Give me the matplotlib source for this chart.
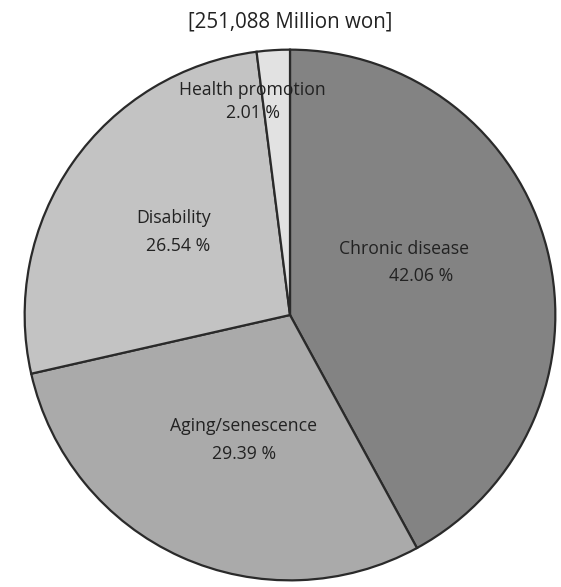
import matplotlib
matplotlib.use("Agg")
import matplotlib.pyplot as plt

# data
categories = ["Chronic disease", "Aging/senescence", "Disability", "Health promotion"]
shares = [42.06, 29.39, 26.54, 2.01]
pct_labels = ["42.06 %", "29.39 %", "26.54 %", "2.01 %"]
title_text = "[251,088 Million won]"

colors = ["#838383", "#aaaaaa", "#c3c3c3", "#e2e2e2"]
# label spots (name line, value line) in axes data units
name_pos = [(0.43, 0.25), (-0.175, -0.42), (-0.44, 0.366), (-0.142, 0.847)]
val_pos = [(0.493, 0.146), (-0.172, -0.522), (-0.422, 0.261), (-0.138, 0.761)]

plt.rcParams['font.family'] = ['Open Sans', 'DejaVu Sans']

W, H = 561, 587
fig = plt.figure(figsize=(W / 100, H / 100), dpi=100)
cx, cy, r = 290, 315, 268
ax = fig.add_axes([(cx - r) / W, (H - cy - r) / H, 2 * r / W, 2 * r / H])

ax.pie(shares, colors=colors, startangle=90, counterclock=False, radius=1,
       wedgeprops=dict(edgecolor="#2a2a2a", linewidth=1.6))
ax.set_xlim(-1.01, 1.01)
ax.set_ylim(-1.01, 1.01)
ax.set_aspect("equal")
ax.axis("off")

for i in range(len(categories)):
    ax.text(name_pos[i][0], name_pos[i][1], categories[i], ha="center", va="center",
            fontsize=12.7, color="#222222")
    ax.text(val_pos[i][0], val_pos[i][1], pct_labels[i], ha="center", va="center",
            fontsize=12.7, color="#222222")

fig.text(290 / W, 1 - 22 / H, title_text, ha="center", va="center",
         fontsize=14.8, color="#222222")

fig.savefig("out.png", dpi=100)
